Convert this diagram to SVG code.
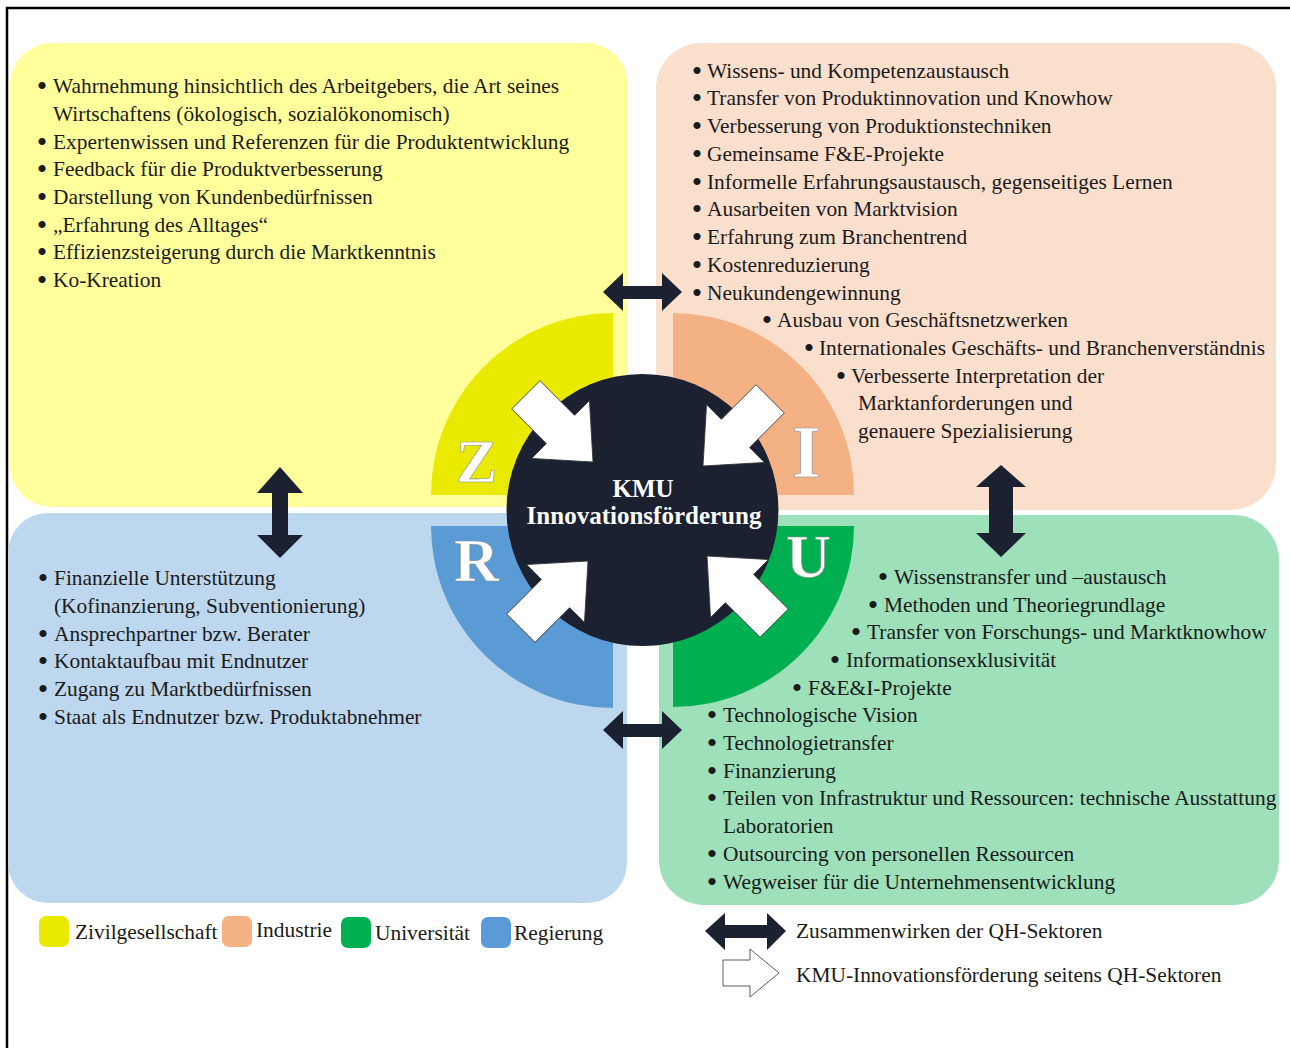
<svg xmlns="http://www.w3.org/2000/svg" width="1290" height="1048" viewBox="0 0 1290 1048">
<style>
.t{font-family:"Liberation Serif","Times New Roman",serif;font-size:21.4px;fill:#1a1a1a}
.b{font-family:"Liberation Serif","Times New Roman",serif;font-size:21.4px;fill:#1a1a1a;stroke:#1a1a1a;stroke-width:2;text-anchor:middle}
.lg{font-family:"Liberation Serif","Times New Roman",serif;font-size:21.4px;fill:#1a1a1a}
.big{font-family:"Liberation Serif","Times New Roman",serif;font-weight:bold;fill:#ffffff;stroke:#8a8a8a;stroke-width:0.6}
.kmu{font-family:"Liberation Serif","Times New Roman",serif;font-weight:bold;font-size:25px;fill:#ffffff;text-anchor:middle}
.dark{fill:#1b2131}
.wa{fill:#ffffff;stroke:#333333;stroke-width:0.8}
</style>
<defs>
<polygon id="warrow" points="0,0 -46,-41 -46,-20 -95,-20 -95,20 -46,20 -46,41"/>
</defs>
<rect x="0" y="0" width="1290" height="1048" fill="#ffffff"/>
<path d="M7,1048 V8 H1290" fill="none" stroke="#000000" stroke-width="2.5"/>

<g id="panel-zivil">
<rect x="10" y="43" width="618" height="464" rx="42" ry="42" fill="#ffff9c"/>
</g>
<g id="panel-industrie">
<rect x="656" y="43" width="620" height="467" rx="45" ry="45" fill="#fbdfcd"/>
</g>
<g id="panel-regierung">
<rect x="8" y="513" width="619" height="390" rx="40" ry="40" fill="#bdd7ee"/>
</g>
<g id="panel-universitaet">
<rect x="659" y="515" width="620" height="390" rx="45" ry="45" fill="#9de0ba"/>
</g>

<g id="wedge-z"><path d="M613,495 H431 A182,182 0 0 1 613,313 Z" fill="#eaea00"/></g>
<g id="wedge-i"><path d="M673,495 V313 A181,181 0 0 1 854,495 Z" fill="#f4b183"/></g>
<g id="wedge-r"><path d="M613,526 H431 A182,182 0 0 0 613,708 Z" fill="#5b9bd5"/></g>
<g id="wedge-u"><path d="M673,526 H854 A181,181 0 0 1 673,707 Z" fill="#00b050"/></g>

<g id="center">
<circle cx="642.5" cy="510" r="136" fill="#1b2131"/>
<text class="kmu" x="643" y="497">KMU</text>
<text class="kmu" x="644" y="524">Innovationsförderung</text>
</g>

<g id="letters">
<text class="big" x="456" y="482" font-size="62">Z</text>
<text class="big" x="792" y="477" font-size="74">I</text>
<text class="big" x="454" y="581" font-size="62">R</text>
<text class="big" x="786" y="577" font-size="62">U</text>
</g>

<g id="connectors">
<use href="#warrow" class="wa" transform="translate(593,462) rotate(45)"/>
<use href="#warrow" class="wa" transform="translate(703,466) rotate(135)"/>
<use href="#warrow" class="wa" transform="translate(588,561) rotate(-45)"/>
<use href="#warrow" class="wa" transform="translate(707,556) rotate(-135)"/>
<polygon class="dark" points="603,292 623,273 623,286 662,286 662,273 682,292 662,311 662,299 623,299 623,311"/>
<polygon class="dark" points="603,730 623,711 623,724 662,724 662,711 682,730 662,749 662,737 623,737 623,749"/>
<polygon class="dark" points="280,467 303,493 288,493 288,535 303,535 280,558 257,535 272,535 272,493 257,493"/>
<polygon class="dark" points="1001,465 1026,487 1013,487 1013,533 1026,533 1001,557 976,533 989,533 989,487 976,487"/>
</g>

<g id="text-zivil">
<text class="b" x="42" y="93">•</text><text class="t" x="53" y="93">Wahrnehmung hinsichtlich des Arbeitgebers, die Art seines</text>
<text class="t" x="53" y="121">Wirtschaftens (ökologisch, sozialökonomisch)</text>
<text class="b" x="42" y="149">•</text><text class="t" x="53" y="149">Expertenwissen und Referenzen für die Produktentwicklung</text>
<text class="b" x="42" y="176">•</text><text class="t" x="53" y="176">Feedback für die Produktverbesserung</text>
<text class="b" x="42" y="204">•</text><text class="t" x="53" y="204">Darstellung von Kundenbedürfnissen</text>
<text class="b" x="42" y="232">•</text><text class="t" x="53" y="232">„Erfahrung des Alltages“</text>
<text class="b" x="42" y="259">•</text><text class="t" x="53" y="259">Effizienzsteigerung durch die Marktkenntnis</text>
<text class="b" x="42" y="287">•</text><text class="t" x="53" y="287">Ko-Kreation</text>
</g>

<g id="text-industrie">
<text class="b" x="697" y="78">•</text><text class="t" x="707" y="78">Wissens- und Kompetenzaustausch</text>
<text class="b" x="697" y="105">•</text><text class="t" x="707" y="105">Transfer von Produktinnovation und Knowhow</text>
<text class="b" x="697" y="133">•</text><text class="t" x="707" y="133">Verbesserung von Produktionstechniken</text>
<text class="b" x="697" y="161">•</text><text class="t" x="707" y="161">Gemeinsame F&amp;E-Projekte</text>
<text class="b" x="697" y="189">•</text><text class="t" x="707" y="189">Informelle Erfahrungsaustausch, gegenseitiges Lernen</text>
<text class="b" x="697" y="216">•</text><text class="t" x="707" y="216">Ausarbeiten von Marktvision</text>
<text class="b" x="697" y="244">•</text><text class="t" x="707" y="244">Erfahrung zum Branchentrend</text>
<text class="b" x="697" y="272">•</text><text class="t" x="707" y="272">Kostenreduzierung</text>
<text class="b" x="697" y="300">•</text><text class="t" x="707" y="300">Neukundengewinnung</text>
<text class="b" x="767" y="327">•</text><text class="t" x="777" y="327">Ausbau von Geschäftsnetzwerken</text>
<text class="b" x="809" y="355">•</text><text class="t" x="819" y="355">Internationales Geschäfts- und Branchenverständnis</text>
<text class="b" x="841" y="383">•</text><text class="t" x="851" y="383">Verbesserte Interpretation der</text>
<text class="t" x="858" y="410">Marktanforderungen und</text>
<text class="t" x="858" y="438">genauere Spezialisierung</text>
</g>

<g id="text-regierung">
<text class="b" x="43" y="585">•</text><text class="t" x="54" y="585">Finanzielle Unterstützung</text>
<text class="t" x="54" y="613">(Kofinanzierung, Subventionierung)</text>
<text class="b" x="43" y="641">•</text><text class="t" x="54" y="641">Ansprechpartner bzw. Berater</text>
<text class="b" x="43" y="668">•</text><text class="t" x="54" y="668">Kontaktaufbau mit Endnutzer</text>
<text class="b" x="43" y="696">•</text><text class="t" x="54" y="696">Zugang zu Marktbedürfnissen</text>
<text class="b" x="43" y="724">•</text><text class="t" x="54" y="724">Staat als Endnutzer bzw. Produktabnehmer</text>
</g>

<g id="text-universitaet">
<text class="b" x="883" y="584">•</text><text class="t" x="894" y="584">Wissenstransfer und –austausch</text>
<text class="b" x="873" y="612">•</text><text class="t" x="884" y="612">Methoden und Theoriegrundlage</text>
<text class="b" x="856" y="639">•</text><text class="t" x="867" y="639">Transfer von Forschungs- und Marktknowhow</text>
<text class="b" x="835" y="667">•</text><text class="t" x="846" y="667">Informationsexklusivität</text>
<text class="b" x="797" y="695">•</text><text class="t" x="808" y="695">F&amp;E&amp;I-Projekte</text>
<text class="b" x="712" y="722">•</text><text class="t" x="723" y="722">Technologische Vision</text>
<text class="b" x="712" y="750">•</text><text class="t" x="723" y="750">Technologietransfer</text>
<text class="b" x="712" y="778">•</text><text class="t" x="723" y="778">Finanzierung</text>
<text class="b" x="712" y="805">•</text><text class="t" x="723" y="805">Teilen von Infrastruktur und Ressourcen: technische Ausstattung</text>
<text class="t" x="723" y="833">Laboratorien</text>
<text class="b" x="712" y="861">•</text><text class="t" x="723" y="861">Outsourcing von personellen Ressourcen</text>
<text class="b" x="712" y="889">•</text><text class="t" x="723" y="889">Wegweiser für die Unternehmensentwicklung</text>
</g>

<g id="legend">
<rect x="39" y="916" width="30" height="31" rx="7" fill="#eaea00"/>
<text class="lg" x="75" y="939">Zivilgesellschaft</text>
<rect x="222" y="916" width="30" height="31" rx="7" fill="#f4b183"/>
<text class="lg" x="256" y="937">Industrie</text>
<rect x="341" y="917" width="30" height="31" rx="7" fill="#00b050"/>
<text class="lg" x="375" y="940">Universität</text>
<rect x="481" y="917" width="30" height="31" rx="7" fill="#5b9bd5"/>
<text class="lg" x="514" y="940">Regierung</text>
<polygon class="dark" points="705,931 725,913 725,925 767,925 767,913 786,931 767,950 767,938 725,938 725,950"/>
<text class="lg" x="796" y="938">Zusammenwirken der QH-Sektoren</text>
<polygon class="wa" points="723,960 750,960 750,949 779,973 750,997 750,986 723,986"/>
<text class="lg" x="796" y="982">KMU-Innovationsförderung seitens QH-Sektoren</text>
</g>
</svg>
